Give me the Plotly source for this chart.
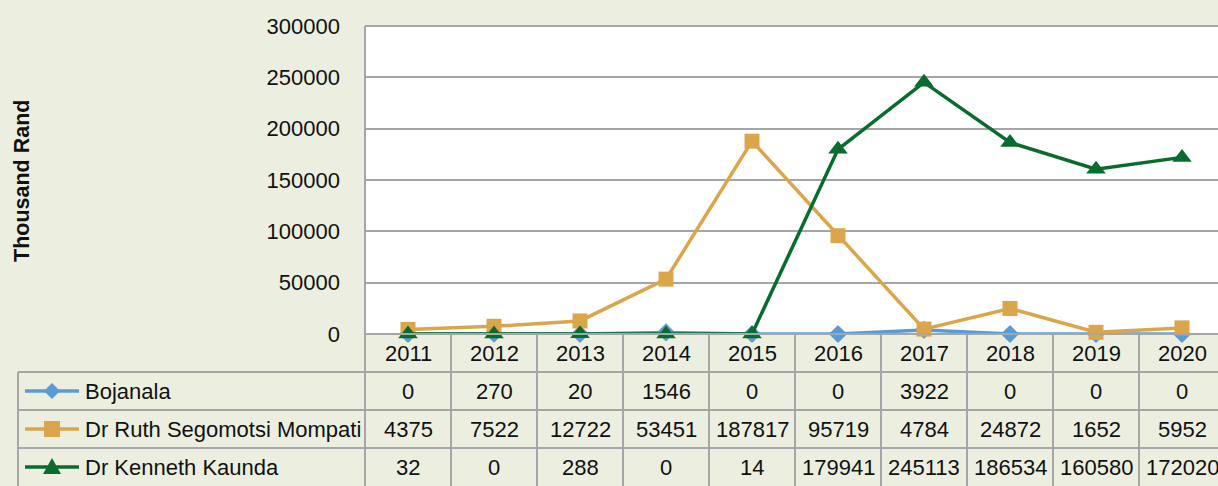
import plotly.graph_objects as go

years = ["2011", "2012", "2013", "2014", "2015", "2016", "2017", "2018", "2019", "2020"]
bojanala = [0, 270, 20, 1546, 0, 0, 3922, 0, 0, 0]
ruth = [4375, 7522, 12722, 53451, 187817, 95719, 4784, 24872, 1652, 5952]
kaunda = [32, 0, 288, 0, 14, 179941, 245113, 186534, 160580, 172020]
series_names = ["Bojanala", "Dr Ruth Segomotsi Mompati", "Dr Kenneth Kaunda"]
y_title = "Thousand Rand"

colors = ["#5B9BD5", "#DBA64B", "#0A6B2E"]
symbols = ["diamond", "square", "triangle-up"]
msizes = [14, 15, 17]
series = [bojanala, ruth, kaunda]

W, H = 1218, 486
ML, MT, MB, MR = 365, 26, 152, 0
PW, PH = W - ML - MR, H - MT - MB
COLW = 86
FONT = "Liberation Sans, Arial, sans-serif"
FS = 22
GRID = "#A6A6A6"
BG = "#ECEFDF"
TXT = "#111111"


def px_x(px):
    return (px - ML) / PW


def px_y(py):
    return (H - MB - py) / PH


xs = list(range(len(years)))
fig = go.Figure()
for name, vals, c, s, ms in zip(series_names, series, colors, symbols, msizes):
    fig.add_trace(go.Scatter(
        x=xs, y=vals, name=name, mode="lines+markers",
        line=dict(color=c, width=3.5),
        marker=dict(symbol=s, size=ms, color=c),
        cliponaxis=False, showlegend=False,
    ))

shapes = []
line_style = dict(color=GRID, width=2)
shapes.append(dict(type="rect", xref="paper", yref="paper", x0=0, x1=1, y0=0, y1=1,
                   fillcolor="white", line=dict(width=0), layer="below"))
shapes.append(dict(type="line", xref="paper", yref="paper", x0=0, x1=1, y0=1, y1=1, line=line_style))
shapes.append(dict(type="line", xref="paper", yref="paper", x0=0, x1=1, y0=0, y1=0, line=line_style))
shapes.append(dict(type="line", xref="paper", yref="paper", x0=0, x1=0, y0=1, y1=px_y(H), line=line_style))
for k in range(1, len(years) + 1):
    shapes.append(dict(type="line", xref="x", yref="paper", x0=k - 0.5, x1=k - 0.5,
                       y0=0, y1=px_y(H), line=line_style))
row_tops = [372, 410, 448]
for ry in row_tops:
    shapes.append(dict(type="line", xref="paper", yref="paper", x0=px_x(18), x1=1,
                       y0=px_y(ry), y1=px_y(ry), line=line_style))
shapes.append(dict(type="line", xref="paper", yref="paper", x0=px_x(18), x1=px_x(18),
                   y0=px_y(372), y1=px_y(H), line=line_style))

annotations = []
for i, yr in enumerate(years):
    annotations.append(dict(x=i, y=px_y(353), xref="x", yref="paper", text=yr, showarrow=False,
                            font=dict(family=FONT, size=FS, color=TXT), xanchor="center", yanchor="middle"))
row_centers = [391, 429, 467]
for r, (name, vals, c, s) in enumerate(zip(series_names, series, colors, symbols)):
    cy = row_centers[r]
    annotations.append(dict(x=px_x(83), y=px_y(cy), xref="paper", yref="paper", text=name, showarrow=False,
                            font=dict(family=FONT, size=FS, color=TXT), xanchor="left", yanchor="middle"))
    for i, v in enumerate(vals):
        annotations.append(dict(x=i, y=px_y(cy), xref="x", yref="paper", text=str(v), showarrow=False,
                                font=dict(family=FONT, size=FS, color=TXT), xanchor="center", yanchor="middle"))
    shapes.append(dict(type="line", xref="paper", yref="paper", x0=px_x(25), x1=px_x(79),
                       y0=px_y(cy), y1=px_y(cy), line=dict(color=c, width=3.5)))
    mx = 52
    if s == "diamond":
        pts = [(mx, cy - 8), (mx + 8, cy), (mx, cy + 8), (mx - 8, cy)]
    elif s == "square":
        pts = [(mx - 8, cy - 8), (mx + 8, cy - 8), (mx + 8, cy + 8), (mx - 8, cy + 8)]
    else:
        pts = [(mx, cy - 9), (mx + 9, cy + 7), (mx - 9, cy + 7)]
    path = "M " + " L ".join(f"{px_x(a):.5f},{px_y(b):.5f}" for a, b in pts) + " Z"
    shapes.append(dict(type="path", xref="paper", yref="paper", path=path,
                       fillcolor=c, line=dict(color=c, width=0)))

annotations.append(dict(x=px_x(22), y=px_y(181), xref="paper", yref="paper", text=f"<b>{y_title}</b>",
                        textangle=-90, showarrow=False,
                        font=dict(family=FONT, size=21.5, color=TXT),
                        xanchor="center", yanchor="middle"))

fig.update_layout(
    width=W, height=H,
    margin=dict(l=ML, r=MR, t=MT, b=MB, pad=0),
    paper_bgcolor=BG, plot_bgcolor="rgba(0,0,0,0)",
    shapes=shapes, annotations=annotations,
    xaxis=dict(range=[-0.5, -0.5 + PW / COLW], showticklabels=False, showgrid=False,
               zeroline=False, showline=False, ticks="", fixedrange=True),
    yaxis=dict(range=[0, 300000], dtick=50000, showgrid=True, gridcolor=GRID, gridwidth=2,
               zeroline=False, showline=False, ticks="", tickformat="d",
               tickfont=dict(family=FONT, size=FS, color=TXT), ticklabelstandoff=24,
               fixedrange=True),
    showlegend=False,
)

fig.write_html("out.html", config={"displayModeBar": False},
               post_script="document.body.style.margin='0';document.body.style.background='" + BG + "';")
